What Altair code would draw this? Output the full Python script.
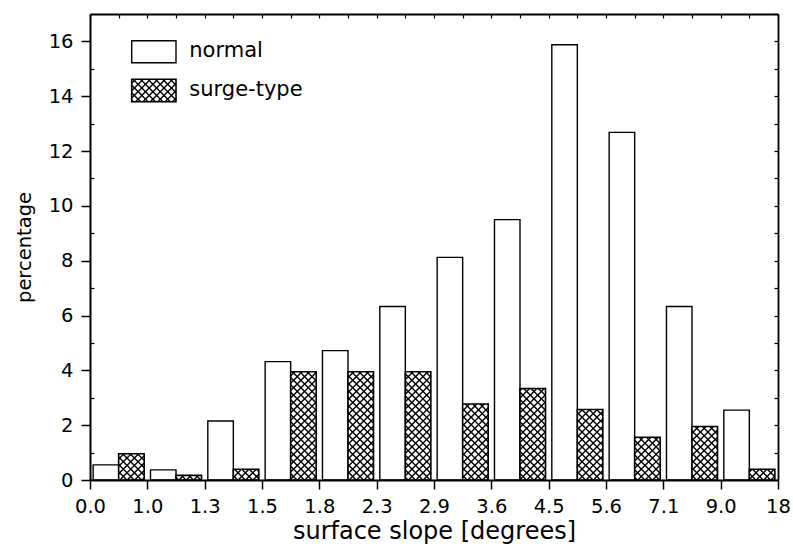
import altair as alt
import numpy as np
import pandas as pd

# Slope class boundaries (tick labels) and the share of glaciers in each class
slope_labels = ["0.0", "1.0", "1.3", "1.5", "1.8", "2.3", "2.9", "3.6", "4.5", "5.6", "7.1", "9.0", "18"]
normal_pct = [0.55, 0.37, 2.15, 4.32, 4.72, 6.33, 8.12, 9.50, 15.88, 12.68, 6.33, 2.55]
surge_pct = [0.96, 0.17, 0.39, 3.95, 3.95, 3.95, 2.77, 3.34, 2.57, 1.56, 1.95, 0.39]

FONT = "DejaVu Sans"
W, H = 688, 466          # plot area in pixels
N_BINS = len(normal_pct)
Y_MAX = 17
PX_PER_BIN = W / N_BINS
PX_PER_PCT = H / Y_MAX
HATCH_STEP = 7.4         # horizontal spacing of the cross-hatch lines (px)

xs = alt.Scale(domain=[0, N_BINS], nice=False, zero=False)
ys = alt.Scale(domain=[0, Y_MAX], nice=False)

bars = pd.DataFrame({"bin": list(range(N_BINS)), "normal": normal_pct, "surge": surge_pct})


def hatch_px(px0, px1, pyt, pyb):
    """Cross-hatch segments clipped to a pixel rectangle (y grows downward)."""
    segs = []
    # lines x + y = c
    for k in range(int(np.floor((px0 + pyt) / HATCH_STEP)), int(np.ceil((px1 + pyb) / HATCH_STEP)) + 1):
        c = k * HATCH_STEP
        xa, xb = max(px0, c - pyb), min(px1, c - pyt)
        if xb - xa > 0.2:
            segs.append((xa, c - xa, xb, c - xb))
    # lines x - y = c
    for k in range(int(np.floor((px0 - pyb) / HATCH_STEP)), int(np.ceil((px1 - pyt) / HATCH_STEP)) + 1):
        c = k * HATCH_STEP
        xa, xb = max(px0, c + pyt), min(px1, c + pyb)
        if xb - xa > 0.2:
            segs.append((xa, xa - c, xb, xb - c))
    return segs


def to_data(segs):
    return [
        {"hx": a / PX_PER_BIN, "hy": (H - b) / PX_PER_PCT, "hx2": c / PX_PER_BIN, "hy2": (H - d) / PX_PER_PCT}
        for a, b, c, d in segs
    ]


# surge-type bar geometry (same offsets as the bar layers below)
SURGE_LEFT, SURGE_RIGHT = 0.5, 0.945
NORMAL_LEFT = 0.055

hatch_rows = []
for i, v in enumerate(surge_pct):
    hatch_rows += to_data(hatch_px((i + SURGE_LEFT) * PX_PER_BIN, (i + SURGE_RIGHT) * PX_PER_BIN,
                                   H - v * PX_PER_PCT, H))

# legend swatches (pixels inside the plot area)
LEG_X0, LEG_X1 = 41.7, 86.0
LEG_NORMAL = (26.7, 48.7)
LEG_SURGE = (65.3, 87.7)
LEG_TEXT_X = 99.3
hatch_rows += to_data(hatch_px(LEG_X0, LEG_X1, LEG_SURGE[0], LEG_SURGE[1]))
hatch = pd.DataFrame(hatch_rows)

label_expr = "[" + ",".join(f"'{s}'" for s in slope_labels) + "][datum.value]"

axis_common = dict(domainColor="black", tickColor="black", labelColor="black", titleColor="black",
                   labelFont=FONT, titleFont=FONT, titleFontWeight="normal", grid=False)

x_main = alt.Axis(values=list(range(N_BINS + 1)), labelExpr=label_expr, labelFontSize=19.5,
                  labelFlush=False, labelOverlap=False, labelPadding=8, tickSize=9, tickWidth=1.5,
                  domainWidth=2, title="surface slope [degrees]", titleFontSize=24,
                  titleBaseline="alphabetic", titleX=W / 2, titleY=58, titleAnchor="middle",
                  zindex=2, **axis_common)
y_main = alt.Axis(values=list(range(0, 17, 2)), labelFontSize=19.5, labelFlush=False,
                  labelOverlap=False, labelPadding=8, tickSize=9, tickWidth=1.5, domainWidth=2,
                  title="percentage", titleFontSize=19.5, titleBaseline="alphabetic",
                  titleAngle=270, titleX=-60, titleY=H / 2, titleAlign="center",
                  zindex=2, **axis_common)
x_top = alt.Axis(orient="bottom", offset=-H, values=[k / 2 for k in range(2 * N_BINS + 1)],
                 labels=False, tickSize=4, tickWidth=1.2, domainWidth=1.8, title=None,
                 zindex=2, **axis_common)
y_minor = alt.Axis(orient="right", offset=-W, values=list(range(1, 17, 2)), labels=False,
                   tickSize=4, tickWidth=1.2, domain=False, title=None, zindex=2, **axis_common)
y_right = alt.Axis(orient="left", offset=-W, values=list(range(0, Y_MAX + 1)), labels=False,
                   tickSize=4, tickWidth=1.2, domainWidth=1.8, title=None, zindex=2, **axis_common)

base = alt.Chart(bars).transform_calculate(
    n0=f"datum.bin + {NORMAL_LEFT}",
    mid="datum.bin + 0.5",
    s1=f"datum.bin + {SURGE_RIGHT}",
    zero="0",
)

normal_bars = base.mark_rect(fill="white", stroke="black", strokeWidth=1.4).encode(
    x=alt.X("n0:Q", scale=xs, axis=x_main),
    x2="mid:Q",
    y=alt.Y("normal:Q", scale=ys, axis=y_main),
    y2="zero:Q",
)

surge_fill = base.mark_rect(fill="white", strokeWidth=0).encode(
    x=alt.X("mid:Q", scale=xs, axis=x_top),
    x2="s1:Q",
    y=alt.Y("surge:Q", scale=ys, axis=y_minor),
    y2="zero:Q",
)

hatch_lines = alt.Chart(hatch).mark_rule(color="black", strokeWidth=1.4).encode(
    x=alt.X("hx:Q", scale=xs, axis=None),
    x2="hx2:Q",
    y=alt.Y("hy:Q", scale=ys, axis=y_right),
    y2="hy2:Q",
)

surge_outline = base.mark_rect(fillOpacity=0, stroke="black", strokeWidth=1.6).encode(
    x=alt.X("mid:Q", scale=xs, axis=None),
    x2="s1:Q",
    y=alt.Y("surge:Q", scale=ys, axis=None),
    y2="zero:Q",
)

legend_normal_box = alt.Chart(bars).mark_rect(fill="white", stroke="black", strokeWidth=1.4).encode(
    x=alt.value(LEG_X0), x2=alt.value(LEG_X1), y=alt.value(LEG_NORMAL[0]), y2=alt.value(LEG_NORMAL[1])
).transform_filter("datum.bin == 0")
legend_surge_box = alt.Chart(bars).mark_rect(fillOpacity=0, stroke="black", strokeWidth=1.6).encode(
    x=alt.value(LEG_X0), x2=alt.value(LEG_X1), y=alt.value(LEG_SURGE[0]), y2=alt.value(LEG_SURGE[1])
).transform_filter("datum.bin == 0")

legend_text_style = dict(font=FONT, fontSize=21, color="black", align="left", baseline="alphabetic")
legend_normal_text = alt.Chart(bars).mark_text(**legend_text_style).encode(
    x=alt.value(LEG_TEXT_X), y=alt.value(42.7), text=alt.value("normal")
).transform_filter("datum.bin == 0")
legend_surge_text = alt.Chart(bars).mark_text(**legend_text_style).encode(
    x=alt.value(LEG_TEXT_X), y=alt.value(82.0), text=alt.value("surge-type")
).transform_filter("datum.bin == 0")

chart = alt.layer(
    normal_bars, surge_fill, hatch_lines, surge_outline,
    legend_normal_box, legend_surge_box, legend_normal_text, legend_surge_text,
).resolve_axis(
    x="independent", y="independent"
).properties(
    width=W, height=H,
    autosize=alt.AutoSizeParams(type="none"),
    padding={"left": 90, "top": 14, "right": 15, "bottom": 74},
    background="white",
).configure_view(stroke=None)

chart.save("out.html", embed_options={"renderer": "svg", "actions": False})
